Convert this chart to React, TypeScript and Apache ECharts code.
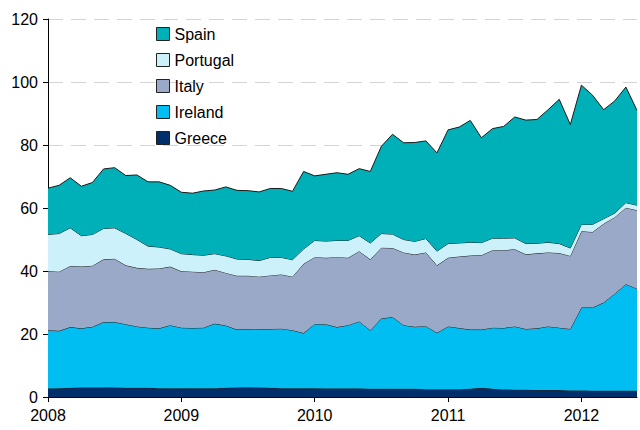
import React, { useEffect, useRef } from "react";
import * as echarts from "echarts";

const years = ["2008", "2009", "2010", "2011", "2012"];
const months: string[] = [];
for (let y = 2008; y <= 2012; y++) {
  for (let m = 1; m <= 12; m++) {
    if (y === 2012 && m > 6) break;
    months.push(`${y}-${m < 10 ? "0" + m : m}`);
  }
}

const greece = [
  2.7, 2.8, 2.9, 3.0, 3.0, 3.0, 3.0, 2.9, 2.9, 2.9, 2.8, 2.8,
  2.8, 2.8, 2.8, 2.8, 2.9, 3.0, 3.1, 3.0, 2.9, 2.8, 2.8, 2.8,
  2.8, 2.7, 2.7, 2.7, 2.7, 2.6, 2.6, 2.6, 2.6, 2.6, 2.5, 2.5,
  2.5, 2.5, 2.6, 2.9, 2.6, 2.4, 2.3, 2.3, 2.2, 2.2, 2.2, 2.1,
  2.1, 2.0, 2.0, 2.0, 2.0, 2.0,
];
const ireland = [
  18.5, 18.2, 19.3, 18.8, 19.3, 20.8, 20.8, 20.2, 19.5, 19.1, 19.0, 20.0,
  19.2, 19.1, 19.2, 20.5, 19.8, 18.4, 18.5, 18.5, 18.7, 18.9, 18.4, 17.5,
  20.4, 20.4, 19.5, 20.1, 21.3, 18.6, 22.3, 22.8, 20.2, 19.7, 20.0, 17.9,
  19.9, 19.4, 18.8, 18.5, 19.4, 19.5, 20.1, 19.3, 19.6, 20.2, 19.8, 19.5,
  26.3, 26.4, 28.0, 30.8, 33.8, 32.4,
];
const italy = [
  18.7, 18.8, 19.4, 19.6, 19.4, 19.9, 20.1, 18.7, 18.6, 18.7, 19.0, 18.6,
  17.9, 17.9, 17.6, 17.1, 16.7, 17.1, 16.9, 16.7, 17.0, 17.2, 17.0, 22.0,
  21.2, 21.1, 22.2, 21.4, 22.3, 22.5, 22.5, 21.9, 23.1, 22.9, 23.4, 21.4,
  21.8, 22.7, 23.5, 23.6, 24.6, 24.7, 24.5, 23.7, 23.8, 23.5, 23.7, 23.2,
  24.2, 24.0, 25.0, 24.3, 24.3, 24.9,
];
const portugal = [
  11.7, 12.1, 12.1, 9.8, 9.9, 9.8, 9.8, 10.1, 9.0, 7.2, 6.8, 5.6,
  5.6, 5.4, 5.4, 5.1, 5.4, 5.3, 5.2, 5.1, 5.7, 5.4, 5.4, 4.7,
  5.3, 5.3, 5.3, 5.5, 4.9, 5.2, 4.5, 4.4, 4.1, 4.2, 4.4, 4.5,
  4.5, 4.3, 4.2, 4.0, 3.8, 3.8, 3.6, 3.4, 3.2, 3.2, 3.0, 2.5,
  2.2, 2.4, 1.6, 1.3, 1.6, 1.6,
];
const spain = [
  14.7, 15.3, 15.9, 15.7, 16.5, 18.9, 19.1, 18.4, 20.5, 20.4, 20.7, 20.2,
  19.5, 19.5, 20.4, 20.2, 21.9, 21.8, 21.8, 21.8, 21.9, 21.9, 21.7, 24.6,
  20.5, 21.2, 21.5, 21.0, 21.3, 22.7, 27.7, 31.7, 30.7, 31.4, 31.0, 31.2,
  36.1, 36.8, 38.7, 33.3, 34.8, 35.5, 38.4, 39.2, 39.3, 42.1, 45.8, 39.2,
  44.2, 41.0, 34.6, 35.6, 36.7, 30.1,
];

const seriesNames = ["Greece", "Ireland", "Italy", "Portugal", "Spain"];
const seriesData = [greece, ireland, italy, portugal, spain];
const colors = ["#002f6c", "#00bdf2", "#9aa9c7", "#ccf1fa", "#00b0b9"];
const legendOrder = ["Spain", "Portugal", "Italy", "Ireland", "Greece"];
const yTicks = [0, 20, 40, 60, 80, 100, 120];

export default function App() {
  const ref = useRef<HTMLDivElement>(null);
  useEffect(() => {
    if (!ref.current) return;
    const chart = echarts.init(ref.current, undefined, { renderer: "svg" });
    const font = "Liberation Sans, Arial, sans-serif";
    chart.setOption({
      animation: false,
      textStyle: { fontFamily: font },
      grid: { left: 48, top: 19, right: 3, bottom: 33, containLabel: false },
      legend: {
        orient: "vertical",
        left: 151,
        top: 21,
        itemWidth: 13,
        itemHeight: 13,
        itemGap: 10,
        icon: "rect",
        textStyle: { fontSize: 16, color: "#000", fontFamily: font },
        data: legendOrder.map((n) => {
          const c = colors[seriesNames.indexOf(n)];
          return { name: n, itemStyle: { color: c, borderColor: "#222", borderWidth: 1 } };
        }),
      },
      xAxis: {
        type: "category",
        data: months,
        boundaryGap: false,
        axisLine: { lineStyle: { color: "#000", width: 1 } },
        axisTick: {
          interval: (i: number) => i % 12 === 0,
          length: 5,
          lineStyle: { color: "#000" },
        },
        axisLabel: {
          interval: (i: number) => i % 12 === 0,
          formatter: (v: string) => {
            const y = v.slice(0, 4);
            return years.includes(y) ? y : "";
          },
          fontSize: 16,
          color: "#000",
          margin: 10,
          fontFamily: font,
        },
        splitLine: { show: false },
      },
      yAxis: {
        type: "value",
        min: yTicks[0],
        max: yTicks[yTicks.length - 1],
        interval: 20,
        axisLine: { show: true, lineStyle: { color: "#000", width: 1 } },
        axisTick: { show: true, length: 5, lineStyle: { color: "#000" } },
        axisLabel: { fontSize: 16, color: "#000", margin: 10, fontFamily: font },
        splitLine: { show: true, lineStyle: { color: "#d4d4d4", type: [15, 8], width: 1 } },
      },
      series: seriesNames.map((n, k) => ({
        name: n,
        type: "line",
        stack: "total",
        data: seriesData[k],
        symbol: "none",
        showSymbol: false,
        itemStyle: { color: colors[k] },
        lineStyle: { color: "#1a1a1a", width: 1 },
        areaStyle: { color: colors[k], opacity: 1 },
        z: 2 + k,
      })),
    });
    return () => chart.dispose();
  }, []);
  return (
    <div
      ref={ref}
      style={{ position: "fixed", left: 0, top: 0, width: 640, height: 430, background: "#fff" }}
    />
  );
}
